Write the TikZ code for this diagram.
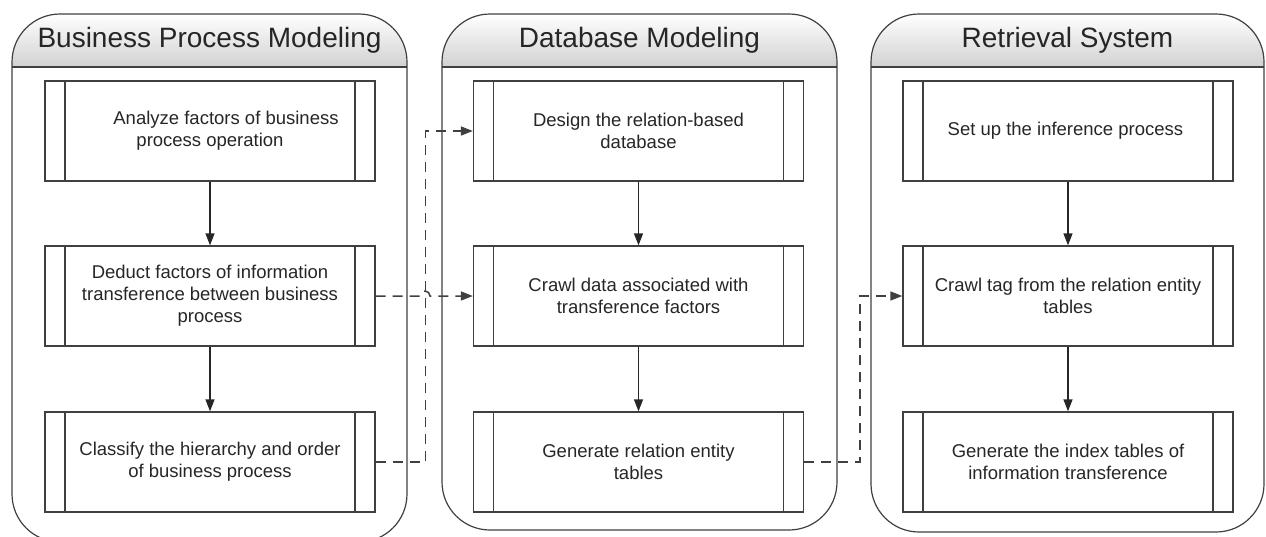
\documentclass[tikz,border=0pt]{standalone}
\usepackage{fontspec}
\setmainfont{Liberation Sans}
\usetikzlibrary{arrows.meta}

\begin{document}
\begin{tikzpicture}[x=1pt,y=-1pt,
        >={Triangle[length=12pt,width=9pt]},
        lane/.style={draw=black!75,line width=1.2pt,rounded corners=48pt},
        lanehead/.style={top color=white,bottom color=black!18},
        lanetitle/.style={font=\fontsize{28}{33}\selectfont,text=black!85},
        proc/.style={draw=black!75,line width=1.3pt,minimum width=330pt,minimum height=100pt,
            align=center,font=\fontsize{18.5}{22}\selectfont,text=black!85,
            path picture={\draw[black!75,line width=1.3pt]
                ([xshift=20pt]path picture bounding box.north west) -- ([xshift=20pt]path picture bounding box.south west)
                ([xshift=-20pt]path picture bounding box.north east) -- ([xshift=-20pt]path picture bounding box.south east);}},
        link/.style={->,line width=1.3pt,draw=black!85},
        flow/.style={->,dash pattern=on 10pt off 7pt,line width=1.5pt,draw=black!75}]
    \useasboundingbox (0,0) rectangle (1266,536);

    % lanes with shaded headers
    \begin{scope}
        \clip[rounded corners=48pt] (12,14) rectangle (407,542);
        \shade[lanehead] (12,14) rectangle (407,67);
    \end{scope}
    \begin{scope}
        \clip[rounded corners=48pt] (442,14) rectangle (837,530);
        \shade[lanehead] (442,14) rectangle (837,67);
    \end{scope}
    \begin{scope}
        \clip[rounded corners=48pt] (871,14) rectangle (1264,532);
        \shade[lanehead] (871,14) rectangle (1264,67);
    \end{scope}
    \draw[lane] (12,14) rectangle (407,542);
    \draw[lane] (442,14) rectangle (837,530);
    \draw[lane] (871,14) rectangle (1264,532);
    \draw[lane] (12,67) -- (407,67);
    \draw[lane] (442,67) -- (837,67);
    \draw[lane] (871,67) -- (1264,67);

    \node[lanetitle] (bpm) at (209.5,40.5) { Business Process Modeling };
    \node[lanetitle] (dbm) at (639.5,40.5) { Database Modeling };
    \node[lanetitle] (rs) at (1067.5,40.5) { Retrieval System };

    % process steps
    \node[proc] (b1) at (210,131) { \hspace*{32pt}Analyze factors of business\\ process operation };
    \node[proc] (b2) at (210,296) { Deduct factors of information\\ transference between business\\ process };
    \node[proc] (b3) at (210,462) { Classify the hierarchy and order\\ of business process };

    \node[proc] (d1) at (638.5,131) { Design the relation-based\\ database };
    \node[proc] (d2) at (638.5,296) { Crawl data associated with\\ transference factors };
    \node[proc] (d3) at (638.5,462) { Generate relation entity\\ tables };

    \node[proc] (r1) at (1068,131) { Set up the inference process };
    \node[proc] (r2) at (1068,296) { Crawl tag from the relation entity\\ tables };
    \node[proc] (r3) at (1068,462) { Generate the index tables of\\ information transference };

    \draw[link] (b1) -- (b2);
    \draw[link] (b2) -- (b3);
    \draw[link] (d1) -- (d2);
    \draw[link] (d2) -- (d3);
    \draw[link] (r1) -- (r2);
    \draw[link] (r2) -- (r3);

    % hand-over between lanes
    \draw[flow] (b3.east) -- ++(50,0) |- (d1.west);
    \draw[flow] (b2.east) -- (420,296) arc[start angle=180,end angle=0,radius=5pt] -- (d2.west);
    \draw[flow] (d3.east) -- ++(56,0) |- (r2.west);

\end{tikzpicture}
\end{document}
